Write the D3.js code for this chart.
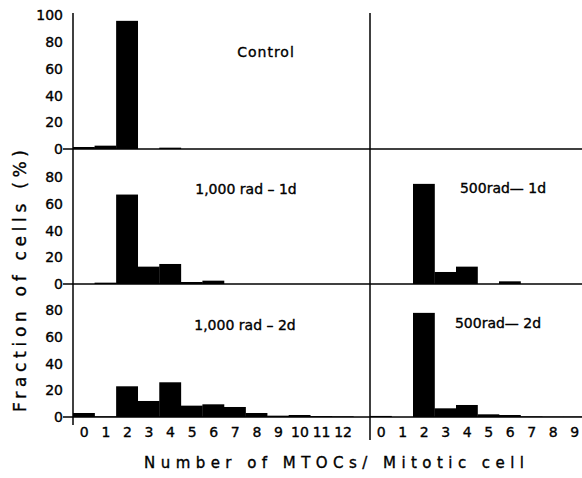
<!DOCTYPE html>
<html>
<head>
<meta charset="utf-8">
<script src="https://cdn.jsdelivr.net/npm/d3@7"></script>
<style>
  body { margin: 0; background: #fff; }
  text { font-family: "DejaVu Sans", sans-serif; fill: #000; stroke: #000; stroke-width: 0.35px; }
</style>
</head>
<body>
<div id="chart"></div>
<script>
// data (% of cells per MTOC count)
let binsLeft = d3.range(0, 13);   // 0..12
let binsRight = d3.range(0, 10);  // 0..9

let control = [1.5, 2.5, 96, 0, 1, 0, 0, 0, 0, 0, 0, 0, 0];
let rad1000d1 = [0, 1, 67, 13, 15, 1.5, 2.5, 0, 0, 0, 0, 0, 0];
let rad1000d2 = [3, 0.5, 23, 12, 26, 8.5, 9.5, 7.5, 3, 1, 1.5, 0.7, 0.5];
let rad500d1 = [0, 0, 75, 9, 13, 0, 2, 0, 0, 0];
let rad500d2 = [0.8, 0, 78, 6.5, 9, 2, 1.5, 0.5, 0.3, 0.3];

let ticksTop = [0, 20, 40, 60, 80, 100];
let ticksLower = [0, 20, 40, 60, 80];

let titles = ["Control", "1,000 rad \u2013 1d", "1,000 rad \u2013 2d", "500rad\u2014 1d", "500rad\u2014 2d"];

// set SVG size
let svgWidth = 582;
let svgHeight = 478;

let svg = d3.select("#chart")
  .append("svg")
  .attr("width", svgWidth)
  .attr("height", svgHeight);

let axisX = 73;
let divX = 370;

// x scales (bin left edges)
let xLeft = d3.scaleLinear().domain([0, 13.77]).range([axisX, divX]);
let xRight = d3.scaleLinear().domain([0, 10]).range([divX, 585]);

// y scales, one per row
let baselines = [149, 284, 417];
let yScales = baselines.map(b => d3.scaleLinear().domain([0, 100]).range([b, b - 133.5]));

function drawBars(values, x, y) {
  svg.append("g")
    .selectAll("rect")
    .data(values)
    .join("rect")
    .attr("x", (d, i) => x(i))
    .attr("width", x(1) - x(0) + 0.3)
    .attr("y", d => y(d))
    .attr("height", d => y(0) - y(d))
    .attr("fill", "#000");
}

drawBars(control, xLeft, yScales[0]);
drawBars(rad1000d1, xLeft, yScales[1]);
drawBars(rad1000d2, xLeft, yScales[2]);
drawBars(rad500d1, xRight, yScales[1]);
drawBars(rad500d2, xRight, yScales[2]);

// baselines across the full width
baselines.forEach(b => {
  svg.append("line")
    .attr("x1", 63).attr("x2", svgWidth)
    .attr("y1", b).attr("y2", b)
    .attr("stroke", "#000").attr("stroke-width", 1.5);
});

// left axis line and divider
svg.append("line")
  .attr("x1", axisX).attr("x2", axisX)
  .attr("y1", 13).attr("y2", 425)
  .attr("stroke", "#000").attr("stroke-width", 1.5);
svg.append("line")
  .attr("x1", divX).attr("x2", divX)
  .attr("y1", 13).attr("y2", 440)
  .attr("stroke", "#000").attr("stroke-width", 1.5);

// y axes
yScales.forEach((y, i) => {
  let g = svg.append("g")
    .attr("transform", `translate(${axisX}, 0)`)
    .call(d3.axisLeft(y).tickValues(i === 0 ? ticksTop : ticksLower).tickSize(0).tickPadding(10));
  g.select(".domain").remove();
  g.selectAll("text")
    .style("font-size", "14px")
    .style("font-family", "DejaVu Sans, sans-serif");
});

// x axes (labels only)
function xLabels(x, bins) {
  let g = svg.append("g")
    .attr("transform", `translate(0, ${baselines[2]})`)
    .call(d3.axisBottom(x).tickValues(bins.map(b => b + 0.5)).tickFormat((d, i) => bins[i]).tickSize(0).tickPadding(10));
  g.select(".domain").remove();
  g.selectAll("text")
    .style("font-size", "14px")
    .style("font-family", "DejaVu Sans, sans-serif");
}
xLabels(xLeft, binsLeft);
xLabels(xRight, binsRight);

// panel titles
let titlePos = [[266, 57], [246, 194], [245, 330], [503, 193], [498, 328]];
titles.forEach((t, i) => {
  svg.append("text")
    .attr("x", titlePos[i][0])
    .attr("y", titlePos[i][1])
    .attr("text-anchor", "middle")
    .style("font-size", "14px")
    .style("letter-spacing", i === 0 ? "1px" : "0px")
    .text(t);
});

// axis titles
svg.append("text")
  .attr("transform", "translate(26, 281) rotate(-90)")
  .attr("text-anchor", "middle")
  .attr("textLength", 262)
  .attr("lengthAdjust", "spacing")
  .style("font-size", "17px")
  .text("Fraction of cells (%)");

svg.append("text")
  .attr("x", 334)
  .attr("y", 468)
  .attr("text-anchor", "middle")
  .attr("textLength", 380)
  .attr("lengthAdjust", "spacing")
  .style("font-size", "15px")
  .text("Number of MTOCs/ Mitotic cell");
</script>
</body>
</html>
